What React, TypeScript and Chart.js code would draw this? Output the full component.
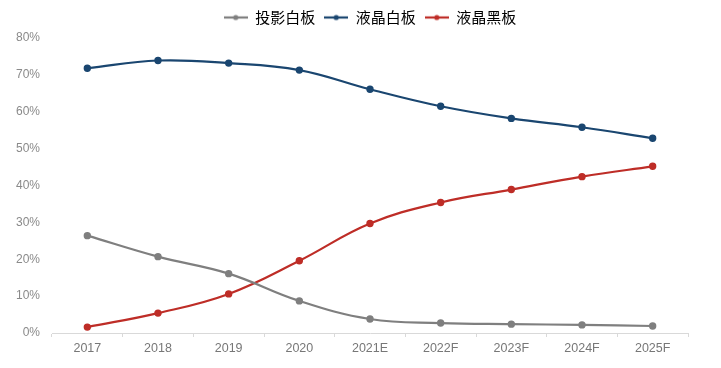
import React, { useEffect, useRef } from "react";
import { Chart, registerables } from "chart.js";

Chart.register(...registerables);

const categories = ["2017", "2018", "2019", "2020", "2021E", "2022F", "2023F", "2024F", "2025F"];
const projectionWhiteboard = [26.4, 20.7, 16.1, 8.7, 3.8, 2.7, 2.4, 2.2, 1.9];
const lcdWhiteboard = [71.8, 73.9, 73.2, 71.3, 66.1, 61.5, 58.2, 55.8, 52.8];
const lcdBlackboard = [1.6, 5.4, 10.6, 19.6, 29.7, 35.4, 38.9, 42.4, 45.2];
const seriesNames = ["投影白板", "液晶白板", "液晶黑板"];
const seriesColors = ["#7f7f7f", "#1a4670", "#be2d27"];
const yTicks = [0, 10, 20, 30, 40, 50, 60, 70, 80];

const ICON_W = 24;

function makeLegendIcon(color: string): HTMLCanvasElement {
  const c = document.createElement("canvas");
  c.width = ICON_W;
  c.height = 8;
  const ctx = c.getContext("2d")!;
  ctx.strokeStyle = color;
  ctx.lineWidth = 2.2;
  ctx.beginPath();
  ctx.moveTo(0, 4);
  ctx.lineTo(ICON_W, 4);
  ctx.stroke();
  ctx.fillStyle = color;
  ctx.beginPath();
  ctx.arc(ICON_W / 2, 4, 2.6, 0, Math.PI * 2);
  ctx.fill();
  return c;
}

// Centre the legend over the plot area (like the original) and add a little gap below it.
const legendTweak = {
  id: "legendTweak",
  afterInit(chart: any) {
    const lg = chart.legend;
    if (lg && !lg.__tweaked) {
      const orig = lg.fit.bind(lg);
      lg.fit = function () {
        orig();
        this.height += 3;
      };
      lg.__tweaked = true;
    }
  },
  afterLayout(chart: any) {
    const lg = chart.legend;
    if (lg) {
      lg.left = chart.chartArea.left;
      lg.right = chart.chartArea.right;
      lg.width = lg.right - lg.left;
      if (lg.adjustHitBoxes) lg.adjustHitBoxes();
    }
  },
};

export default function App() {
  const ref = useRef<HTMLCanvasElement | null>(null);
  useEffect(() => {
    document.body.style.margin = "0";
    const icons = seriesColors.map(makeLegendIcon);
    const datasets = [projectionWhiteboard, lcdWhiteboard, lcdBlackboard].map((d, i) => ({
      label: seriesNames[i],
      data: d,
      borderColor: seriesColors[i],
      backgroundColor: seriesColors[i],
      borderWidth: 2.2,
      pointRadius: 2.6,
      pointBackgroundColor: seriesColors[i],
      pointBorderColor: seriesColors[i],
      tension: 0.4,
      fill: false,
    }));
    const chart = new Chart(ref.current!, {
      type: "line",
      data: { labels: categories, datasets },
      plugins: [legendTweak],
      options: {
        animation: false,
        responsive: false,
        layout: { padding: { left: 0, right: 33, top: 1, bottom: 8 } },
        plugins: {
          tooltip: { enabled: false },
          legend: {
            position: "top",
            labels: {
              usePointStyle: true,
              pointStyleWidth: ICON_W,
              font: { size: 15, family: "'Noto Sans CJK SC', sans-serif" },
              color: "#595959",
              padding: 9,
              generateLabels: (ch: any) =>
                ch.data.datasets.map((ds: any, i: number) => ({
                  text: ds.label,
                  fillStyle: seriesColors[i],
                  strokeStyle: seriesColors[i],
                  pointStyle: icons[i],
                  datasetIndex: i,
                  hidden: false,
                  lineWidth: 0,
                })),
            },
          },
        },
        scales: {
          x: {
            offset: true,
            grid: {
              display: true,
              drawOnChartArea: false,
              offset: true,
              tickLength: 4,
              color: "#d9d9d9",
            },
            border: { color: "#d9d9d9" },
            ticks: {
              color: "#777",
              font: { size: 12.5, family: "'Liberation Sans', Arial, sans-serif" },
              padding: 4,
              maxRotation: 0,
            },
          },
          y: {
            min: 0,
            max: 80,
            afterFit: (s: any) => {
              s.width = 52;
            },
            afterBuildTicks: (s: any) => {
              s.ticks = yTicks.map((v) => ({ value: v }));
            },
            grid: { display: false },
            border: { display: false },
            ticks: {
              color: "#8a8a8a",
              font: { size: 12, family: "'Liberation Sans', Arial, sans-serif" },
              padding: 4,
              callback: (v: any) => v + "%",
            },
          },
        },
      },
    });
    return () => chart.destroy();
  }, []);
  return (
    <div style={{ width: 721, height: 368, background: "#fff" }}>
      <canvas ref={ref} width={721} height={368} />
    </div>
  );
}
